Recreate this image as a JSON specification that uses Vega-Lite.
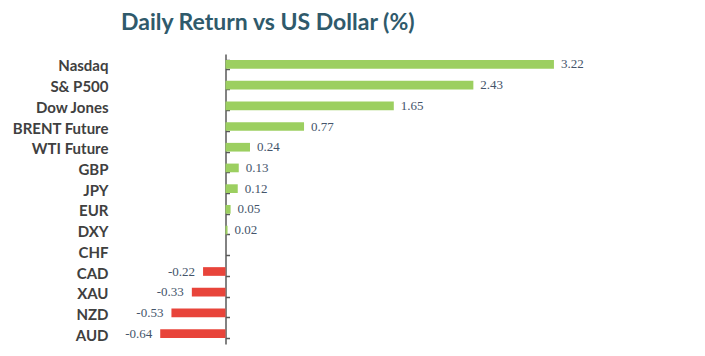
{
  "$schema": "https://vega.github.io/schema/vega-lite/v6.json",
  "width": 592,
  "height": 290,
  "autosize": {"type": "none"},
  "padding": {"left": 103, "top": 54, "right": 10, "bottom": 12},
  "background": "white",
  "title": {
    "text": "Daily Return vs US Dollar (%)",
    "anchor": "start",
    "frame": "group",
    "dx": 18,
    "offset": 12,
    "font": "Lato",
    "fontSize": 23,
    "fontWeight": "bold",
    "color": "#2F5A6B"
  },
  "config": {
    "view": {"stroke": null},
    "locale": {"number": {"decimal": ".", "thousands": ",", "grouping": [3], "currency": ["$", ""], "minus": "-"}}
  },
  "data": {
    "values": [
      {"asset": "Nasdaq", "value": 3.22},
      {"asset": "S& P500", "value": 2.43},
      {"asset": "Dow Jones", "value": 1.65},
      {"asset": "BRENT Future", "value": 0.77},
      {"asset": "WTI Future", "value": 0.24},
      {"asset": "GBP", "value": 0.13},
      {"asset": "JPY", "value": 0.12},
      {"asset": "EUR", "value": 0.05},
      {"asset": "DXY", "value": 0.02},
      {"asset": "CHF", "value": 0},
      {"asset": "CAD", "value": -0.22},
      {"asset": "XAU", "value": -0.33},
      {"asset": "NZD", "value": -0.53},
      {"asset": "AUD", "value": -0.64}
    ]
  },
  "encoding": {
    "y": {
      "field": "asset",
      "type": "nominal",
      "sort": null,
      "scale": {"paddingInner": 0.58, "paddingOuter": 0.29},
      "axis": {
        "title": null,
        "orient": "left",
        "offset": -122.5,
        "domainColor": "#595959",
        "domainWidth": 1.5,
        "tickColor": "#595959",
        "tickWidth": 1.5,
        "tickSize": -4,
        "tickBand": "extent",
        "labelPadding": 121.5,
        "labelFont": "Lato",
        "labelFontSize": 15,
        "labelFontWeight": "bold",
        "labelColor": "#404040",
        "labelOffset": 1.5
      }
    },
    "x": {
      "field": "value",
      "type": "quantitative",
      "scale": {"domain": [-1.201, 4.603], "nice": false, "zero": false},
      "axis": null
    }
  },
  "layer": [
    {
      "mark": {"type": "bar"},
      "encoding": {
        "x": {"field": "value", "type": "quantitative"},
        "x2": {"datum": 0},
        "color": {
          "condition": {"test": "datum.value < 0", "value": "#E8443A"},
          "value": "#9CCF60"
        }
      }
    },
    {
      "transform": [{"filter": "datum.value > 0"}],
      "mark": {"type": "text", "align": "left", "baseline": "middle", "dx": 7, "font": "Liberation Serif", "fontSize": 13, "color": "#44546A"},
      "encoding": {
        "text": {"field": "value", "type": "quantitative", "format": ".2f"}
      }
    },
    {
      "transform": [{"filter": "datum.value < 0"}],
      "mark": {"type": "text", "align": "right", "baseline": "middle", "dx": -8, "font": "Liberation Serif", "fontSize": 13, "color": "#44546A"},
      "encoding": {
        "text": {"field": "value", "type": "quantitative", "format": ".2f"}
      }
    }
  ]
}
